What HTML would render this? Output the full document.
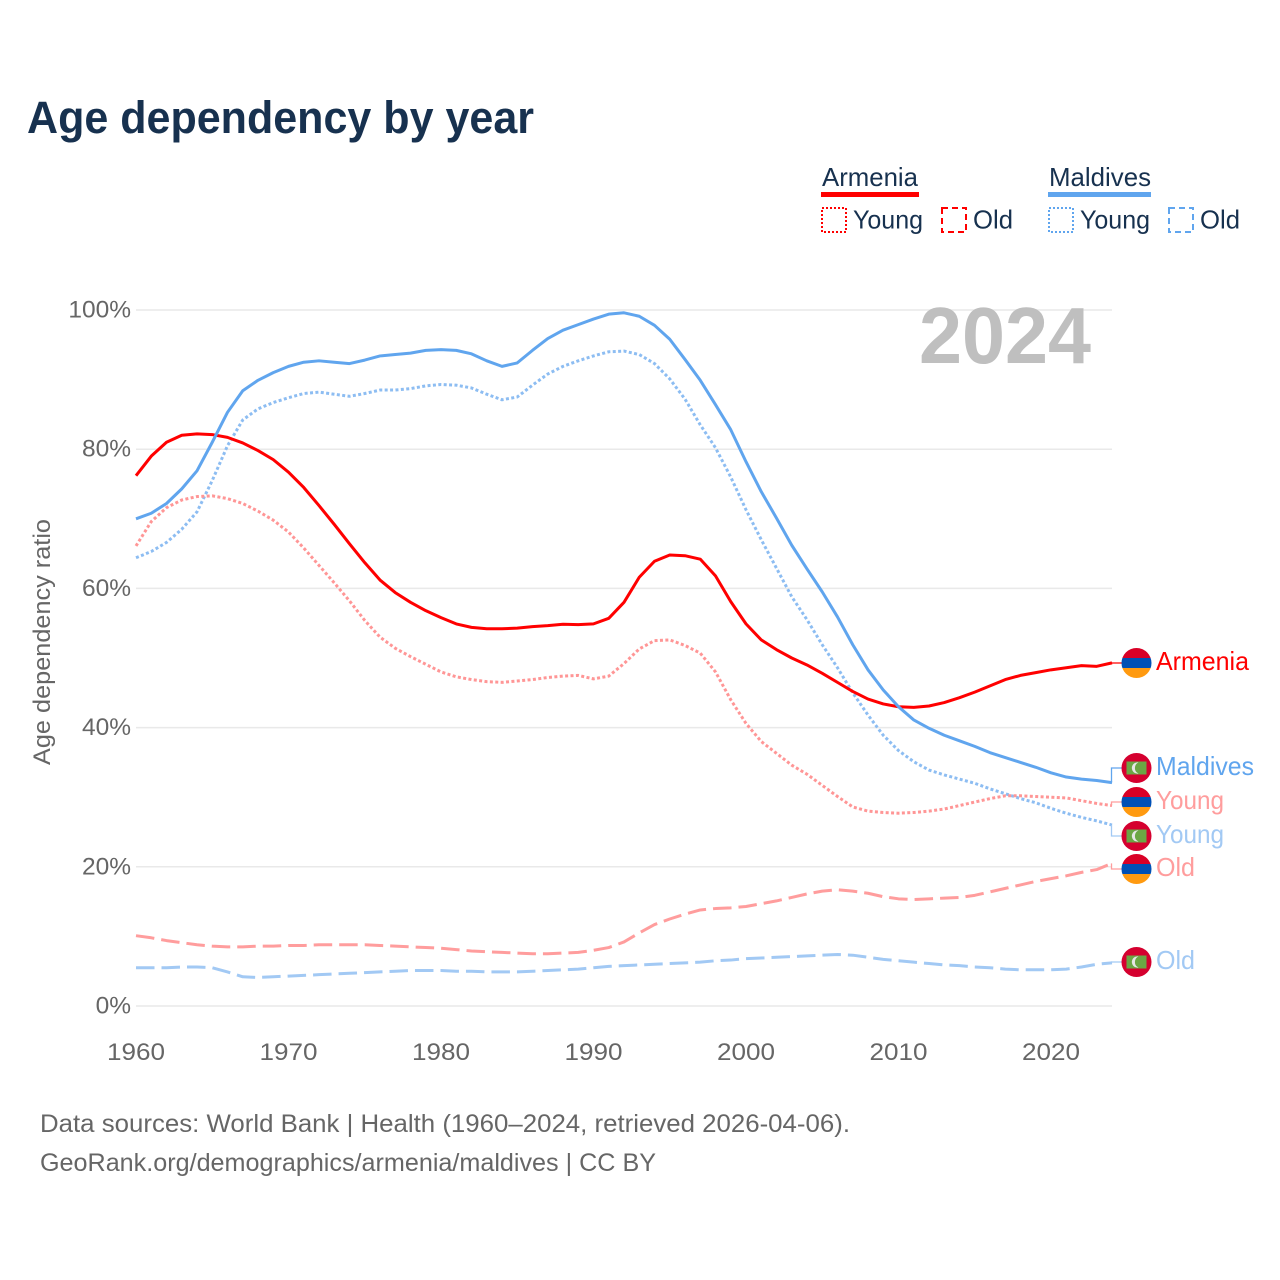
<!DOCTYPE html>
<html lang="en">
<head>
<meta charset="utf-8">
<title>Age dependency by year</title>
<style>
html,body{margin:0;padding:0;background:#fff;width:1280px;height:1280px;overflow:hidden}
svg{display:block}
text{font-family:"Liberation Sans",sans-serif}
.tick{font-size:24.5px;fill:#666}
.leg{font-size:26px;fill:#17314f}
.end{font-size:26px}
.foot{font-size:25px;fill:#666}
</style>
</head>
<body>
<svg id="chart" xmlns="http://www.w3.org/2000/svg" width="1280" height="1280" viewBox="0 0 1280 1280">
<defs>
<clipPath id="flag-clip"><circle cx="0" cy="0" r="15"/></clipPath>
</defs>
<text x="27" y="133" font-size="45" font-weight="700" fill="#17314f" textLength="507" lengthAdjust="spacingAndGlyphs">Age dependency by year</text>

<g>
<text class="leg" x="822" y="186" textLength="96" lengthAdjust="spacingAndGlyphs">Armenia</text>
<rect x="821" y="192" width="98" height="5" fill="#ff0000"/>
<rect x="822" y="208" width="24" height="24" fill="none" stroke="#ff0000" stroke-width="2" stroke-dasharray="2 2"/>
<text class="leg" x="853" y="228.5" textLength="70" lengthAdjust="spacingAndGlyphs">Young</text>
<rect x="942" y="208" width="24" height="24" fill="none" stroke="#ff0000" stroke-width="2" stroke-dasharray="6 4"/>
<text class="leg" x="973" y="228.5" textLength="40" lengthAdjust="spacingAndGlyphs">Old</text>
<text class="leg" x="1049" y="186" textLength="102" lengthAdjust="spacingAndGlyphs">Maldives</text>
<rect x="1048" y="192" width="103" height="5" fill="#60a5ee"/>
<rect x="1049" y="208" width="24" height="24" fill="none" stroke="#60a5ee" stroke-width="2" stroke-dasharray="2 2"/>
<text class="leg" x="1080" y="228.5" textLength="70" lengthAdjust="spacingAndGlyphs">Young</text>
<rect x="1169" y="208" width="24" height="24" fill="none" stroke="#60a5ee" stroke-width="2" stroke-dasharray="6 4"/>
<text class="leg" x="1200" y="228.5" textLength="40" lengthAdjust="spacingAndGlyphs">Old</text>
</g>

<g id="grid"></g>
<g id="yticks"></g>
<g id="xticks"></g>
<text transform="translate(50,642) rotate(-90)" text-anchor="middle" font-size="24" fill="#666" textLength="246" lengthAdjust="spacingAndGlyphs">Age dependency ratio</text>
<text x="919" y="363" font-size="80" font-weight="700" fill="#bfbfbf" textLength="172" lengthAdjust="spacingAndGlyphs">2024</text>
<g id="series"></g>
<g id="ends"></g>

<text class="foot" x="40" y="1132" textLength="810" lengthAdjust="spacingAndGlyphs">Data sources: World Bank | Health (1960–2024, retrieved 2026-04-06).</text>
<text class="foot" x="40" y="1171" textLength="616" lengthAdjust="spacingAndGlyphs">GeoRank.org/demographics/armenia/maldives | CC BY</text>
</svg>
<script>
const startYear = 1960;
const xTickYears = [1960, 1970, 1980, 1990, 2000, 2010, 2020];
const yTickValues = [0, 20, 40, 60, 80, 100];
const armeniaTotal = [76.2,79.0,81.0,82.0,82.2,82.1,81.7,80.9,79.8,78.5,
  76.7,74.5,71.9,69.2,66.4,63.7,61.2,59.4,58.0,56.8,
  55.8,54.9,54.4,54.2,54.2,54.3,54.5,54.65,54.85,54.8,
  54.9,55.7,58.0,61.6,63.9,64.8,64.7,64.2,61.8,58.1,
  54.9,52.6,51.2,50.0,49.0,47.8,46.5,45.2,44.1,43.4,
  43.0,42.9,43.1,43.6,44.3,45.1,46.0,46.9,47.5,47.9,
  48.3,48.6,48.9,48.8,49.3];
const armeniaYoung = [66.1,69.6,71.6,72.7,73.2,73.3,72.9,72.2,71.1,69.8,
  68.1,65.8,63.3,60.8,58.2,55.4,53.0,51.4,50.2,49.1,
  48.0,47.3,46.9,46.6,46.5,46.7,46.9,47.2,47.4,47.5,
  47.0,47.4,49.2,51.3,52.5,52.6,51.8,50.7,48.0,44.0,
  40.6,38.0,36.3,34.6,33.3,31.7,30.1,28.6,28.0,27.8,
  27.7,27.8,28.0,28.3,28.8,29.3,29.8,30.2,30.2,30.1,
  30.0,29.9,29.5,29.1,28.8];
const armeniaOld = [10.1,9.8,9.4,9.1,8.8,8.6,8.5,8.5,8.6,8.6,
  8.7,8.7,8.8,8.8,8.8,8.8,8.7,8.6,8.5,8.4,
  8.3,8.1,7.9,7.8,7.7,7.6,7.5,7.5,7.6,7.7,
  8.0,8.4,9.2,10.5,11.7,12.5,13.2,13.8,14.0,14.1,
  14.3,14.7,15.1,15.6,16.1,16.5,16.7,16.5,16.2,15.7,
  15.4,15.3,15.4,15.5,15.6,15.9,16.4,16.9,17.4,17.9,
  18.3,18.7,19.2,19.6,20.5];
const maldivesTotal = [70.0,70.8,72.2,74.3,76.9,81.0,85.3,88.4,89.9,91.0,
  91.9,92.5,92.7,92.5,92.3,92.8,93.4,93.6,93.8,94.2,
  94.3,94.2,93.7,92.7,91.9,92.4,94.2,95.9,97.1,97.9,
  98.7,99.4,99.6,99.1,97.8,95.8,92.9,89.9,86.4,82.8,
  78.2,73.9,70.1,66.2,62.8,59.5,55.9,51.9,48.3,45.4,
  43.0,41.1,39.9,38.9,38.1,37.3,36.4,35.7,35.0,34.3,
  33.5,32.9,32.6,32.4,32.1];
const maldivesYoung = [64.4,65.3,66.6,68.5,71.0,75.5,80.5,84.2,85.8,86.7,
  87.4,88.0,88.2,87.9,87.6,88.0,88.5,88.5,88.7,89.1,
  89.3,89.2,88.8,87.9,87.1,87.5,89.2,90.8,91.9,92.7,
  93.4,94.0,94.1,93.6,92.3,90.1,87.2,83.5,80.2,76.0,
  71.3,67.0,62.9,58.8,55.5,51.9,48.6,45.0,41.8,38.9,
  36.7,35.1,33.9,33.2,32.6,32.0,31.2,30.5,29.8,29.2,
  28.4,27.7,27.1,26.6,26.0];
const maldivesOld = [5.5,5.5,5.5,5.6,5.6,5.5,4.9,4.2,4.1,4.2,
  4.3,4.4,4.5,4.6,4.7,4.8,4.9,5.0,5.1,5.1,
  5.1,5.0,5.0,4.9,4.9,4.9,5.0,5.1,5.2,5.3,
  5.5,5.7,5.8,5.9,6.0,6.1,6.2,6.3,6.5,6.6,
  6.8,6.9,7.0,7.1,7.2,7.3,7.4,7.3,7.0,6.7,
  6.5,6.3,6.1,5.9,5.8,5.6,5.5,5.3,5.2,5.2,
  5.2,5.3,5.6,6.0,6.2];

const NS = 'http://www.w3.org/2000/svg';
const xScale = function (year) { return 136 + (year - 1960) * 15.25; };
const yScale = function (v) { return 1006 - v * 6.96; };
const RED = '#ff0000', BLUE = '#60a5ee', RED_L = '#ff9d9d', BLUE_L = '#a2c9f4';
const DOT = '3 2.4', DASH = '18.5 7';

function make(tag, attrs, parent) {
  const el = document.createElementNS(NS, tag);
  Object.keys(attrs).forEach(function (k) { el.setAttribute(k, attrs[k]); });
  parent.appendChild(el);
  return el;
}

const grid = document.getElementById('grid');
const yticks = document.getElementById('yticks');
yTickValues.forEach(function (v) {
  const line = make('line', {x1: 136, x2: 1112, y1: yScale(v), y2: yScale(v), stroke: '#e9e9e9', 'stroke-width': 1.5}, grid);
  
  
  const t = make('text', {x: 131, y: yScale(v) + 7.5, 'text-anchor': 'end', class: 'tick'}, yticks);
  
  
  t.textContent = v + '%';
});
const xticks = document.getElementById('xticks');
xTickYears.forEach(function (y) {
  const t = make('text', {x: xScale(y), y: 1060, 'text-anchor': 'middle', class: 'tick', textLength: 58, lengthAdjust: 'spacingAndGlyphs'}, xticks);
  
  
  t.textContent = y;
});

const seriesGroup = document.getElementById('series');
function drawSeries(values, color, dash, name) {
  const pts = values.map(function (v, i) { return xScale(startYear + i).toFixed(2) + ',' + yScale(v).toFixed(2); }).join(' ');
  const attrs = {points: pts, fill: 'none', stroke: color, 'stroke-width': 3, 'stroke-linejoin': 'round'};
  if (dash) attrs['stroke-dasharray'] = dash;
  const p = make('polyline', attrs, seriesGroup);
  
  
}
drawSeries(maldivesOld, BLUE_L, DASH, 'line-maldives-old');
drawSeries(armeniaOld, RED_L, DASH, 'line-armenia-old');
drawSeries(maldivesYoung, '#8dbdf2', DOT, 'line-maldives-young');
drawSeries(armeniaYoung, '#ff9696', DOT, 'line-armenia-young');
drawSeries(armeniaTotal, RED, null, 'line-armenia-total');
drawSeries(maldivesTotal, BLUE, null, 'line-maldives-total');

const ends = document.getElementById('ends');
function drawFlag(country, cy, name) {
  const g = make('g', {transform: 'translate(1136.5,' + cy + ')', 'clip-path': 'url(#flag-clip)'}, ends);
  
  
  if (country === 'armenia') {
    make('rect', {x: -16, y: -16, width: 32, height: 11, fill: '#d90026'}, g);
    make('rect', {x: -16, y: -5, width: 32, height: 10, fill: '#0050b5'}, g);
    make('rect', {x: -16, y: 5, width: 32, height: 11, fill: '#ff9a10'}, g);
  } else {
    make('rect', {x: -16, y: -16, width: 32, height: 32, fill: '#d5002f'}, g);
    make('rect', {x: -10, y: -6.5, width: 20, height: 13, fill: '#6ba644'}, g);
    make('path', {d: 'M2,-5.5 A5.6,5.6 0 1 0 2,5.5 A6,6 0 0 1 2,-5.5 Z', fill: '#e6e6e6'}, g);
  }
}
function drawEnd(values, labelY, color, lineColor, country, label, width, name) {
  const y0 = yScale(values[values.length - 1]);
  const c = make('path', {d: 'M1111.5,' + y0.toFixed(2) + ' V' + labelY + ' H1122', fill: 'none', stroke: lineColor, 'stroke-width': 1.3}, ends);
  
  
  drawFlag(country, labelY, name + '-flag');
  const t = make('text', {x: 1156, y: labelY + 7, class: 'end', fill: color, textLength: width, lengthAdjust: 'spacingAndGlyphs'}, ends);
  
  
  t.textContent = label;
}
drawEnd(armeniaTotal, 663, RED, RED, 'armenia', 'Armenia', 93, 'end-armenia-total');
drawEnd(maldivesTotal, 768, BLUE, BLUE, 'maldives', 'Maldives', 98, 'end-maldives-total');
drawEnd(armeniaYoung, 802, RED_L, RED_L, 'armenia', 'Young', 68, 'end-armenia-young');
drawEnd(maldivesYoung, 836, BLUE_L, BLUE_L, 'maldives', 'Young', 68, 'end-maldives-young');
drawEnd(armeniaOld, 869, RED_L, RED_L, 'armenia', 'Old', 39, 'end-armenia-old');
drawEnd(maldivesOld, 962, BLUE_L, BLUE_L, 'maldives', 'Old', 39, 'end-maldives-old');
</script>
</body>
</html>
